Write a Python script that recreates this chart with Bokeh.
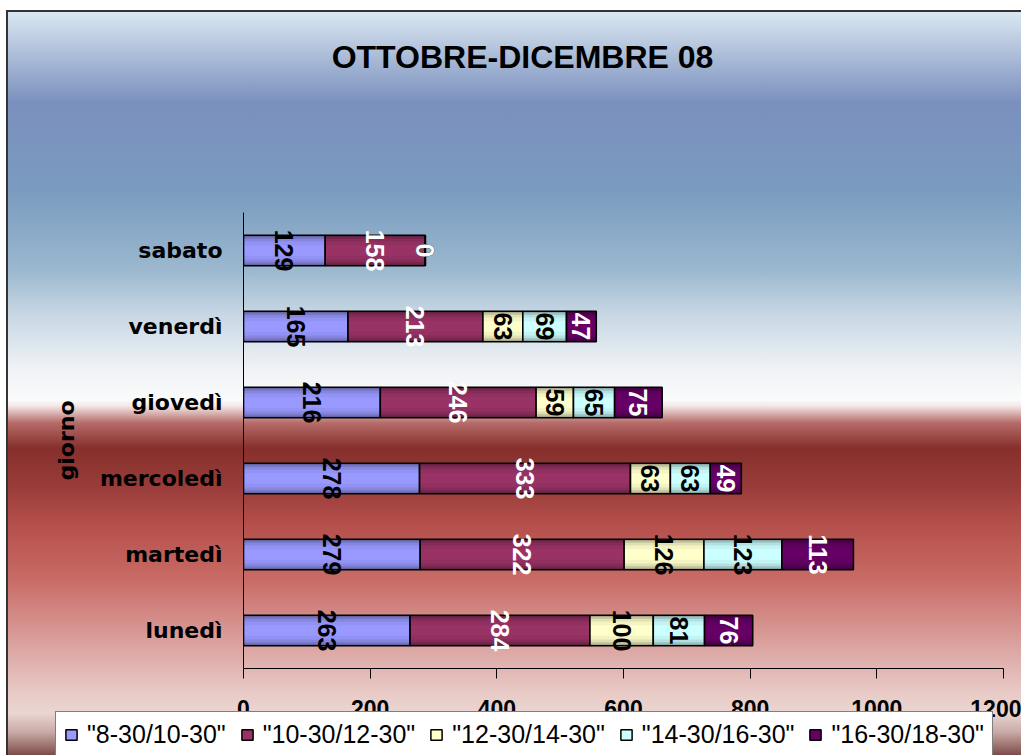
import numpy as np
from bokeh.plotting import figure
from bokeh.layouts import column
from bokeh.models import ColumnDataSource, Legend, LegendItem, FactorRange, Range1d, Label
from bokeh.core.properties import value
from bokeh.embed import file_html
from bokeh.resources import INLINE

# ---------------- data ----------------
days = ["lunedì", "martedì", "mercoledì", "giovedì", "venerdì", "sabato"]
s_8_10 = [263, 279, 278, 216, 165, 129]
s_10_12 = [284, 322, 333, 246, 213, 158]
s_12_14 = [100, 126, 63, 59, 63, 0]
s_14_16 = [81, 123, 63, 65, 69, 0]
s_16_18 = [76, 113, 49, 75, 47, 0]
series_names = ['"8-30/10-30"', '"10-30/12-30"', '"12-30/14-30"', '"14-30/16-30"', '"16-30/18-30"']
title_text = "OTTOBRE-DICEMBRE 08"
y_title = "giorno"
x_ticks = [0, 200, 400, 600, 800, 1000, 1200]

# ---------------- style ----------------
colors = ["#9999FF", "#993366", "#FFFFCC", "#CCFFFF", "#660066"]
label_colors = ["black", "white", "black", "black", "white"]
FONT = "Liberation Sans"
WIDE = "DejaVu Sans"


def shade(hexcol, f):
    h = hexcol.lstrip("#")
    r, g, b = (int(h[i:i + 2], 16) for i in (0, 2, 4))
    return "#%02x%02x%02x" % (int(r * f), int(g * f), int(b * f))


def bare(fig):
    fig.frame_align = False
    fig.background_fill_color = None
    fig.border_fill_color = None
    fig.outline_line_color = None
    fig.grid.visible = False


# ---------------- title strip ----------------
pt = figure(width=1021, height=100, x_range=Range1d(0, 1), y_range=Range1d(0, 1),
            output_backend="svg", toolbar_location=None,
            x_axis_location=None, y_axis_location=None,
            min_border_left=0, min_border_right=0, min_border_top=0, min_border_bottom=0)
bare(pt)
pt.add_layout(Label(x=522, y=44, x_units="screen", y_units="screen", text=title_text,
                    text_align="center", text_baseline="middle",
                    text_font=FONT, text_font_style="bold", text_font_size="32px",
                    text_color="black"))

# ---------------- main chart ----------------
p = figure(width=1021, height=630,
           y_range=FactorRange(factors=days, range_padding=0),
           x_range=Range1d(0, 1200),
           output_backend="svg", toolbar_location=None,
           min_border_left=243, min_border_right=18,
           min_border_top=112, min_border_bottom=62)
bare(p)

series = [s_8_10, s_10_12, s_12_14, s_14_16, s_16_18]
arr = np.array(series, dtype=float)
lefts = np.vstack([np.zeros(len(days)), np.cumsum(arr, axis=0)[:-1]])
rights = lefts + arr

layers = [(0.40, 0.62), (0.36, 0.76), (0.31, 0.88), (0.24, 0.96), (0.14, 1.0)]
for i in range(len(series)):
    src = ColumnDataSource(dict(y=days, left=lefts[i], right=rights[i]))
    for hgt, f in layers:
        p.hbar(y="y", left="left", right="right", height=hgt, source=src,
               fill_color=shade(colors[i], f), line_color=None)
    p.hbar(y="y", left="left", right="right", height=0.4, source=src,
           fill_color=None, line_color="black", line_width=1.6)

for i in range(len(series)):
    src = ColumnDataSource(dict(x=(lefts[i] + rights[i]) / 2, y=days,
                                t=[str(v) for v in series[i]]))
    p.text(x="x", y="y", text="t", source=src, angle=-np.pi / 2,
           text_align="center", text_baseline="middle",
           text_font=value(FONT), text_font_style="bold", text_font_size="25px",
           text_color=label_colors[i])

p.xaxis.ticker = x_ticks
p.xaxis.major_tick_out = 10
p.xaxis.major_tick_in = 0
p.xaxis.minor_tick_line_color = None
p.xaxis.axis_line_color = "black"
p.xaxis.major_tick_line_color = "black"
p.xaxis.major_label_text_font = FONT
p.xaxis.major_label_text_font_style = "bold"
p.xaxis.major_label_text_font_size = "23px"
p.xaxis.major_label_text_color = "black"
p.xaxis.major_label_standoff = 21

p.yaxis.major_tick_line_color = None
p.yaxis.minor_tick_line_color = None
p.yaxis.axis_line_color = "black"
p.yaxis.major_label_text_font = WIDE
p.yaxis.major_label_text_font_style = "bold"
p.yaxis.major_label_text_font_size = "22px"
p.yaxis.major_label_text_color = "black"
p.yaxis.major_label_standoff = 15
p.yaxis.axis_label = y_title
p.yaxis.axis_label_text_font = WIDE
p.yaxis.axis_label_text_font_style = "bold"
p.yaxis.axis_label_text_font_size = "22px"
p.yaxis.axis_label_text_color = "black"
p.yaxis.axis_label_standoff = 18

# ---------------- legend strip (overlaps bottom of tick labels, as in the reference) ----------------
pl = figure(width=1021, height=45, x_range=Range1d(0, 1), y_range=Range1d(0, 1),
            output_backend="svg", toolbar_location=None,
            x_axis_location=None, y_axis_location=None,
            min_border_left=54, min_border_right=0, min_border_top=0, min_border_bottom=0,
            margin=(-20, 0, 0, 0))
bare(pl)
items = []
for i in range(len(series)):
    r = pl.quad(left=[-10], right=[-9], bottom=[0], top=[1],
                fill_color=colors[i], line_color="black", line_width=1.5)
    items.append(LegendItem(label=series_names[i], renderers=[r]))
legend = Legend(items=items, orientation="horizontal", location="top_left",
                label_text_font=FONT, label_text_font_size="25px", label_text_color="black",
                glyph_width=14, glyph_height=13, label_standoff=9, spacing=14, padding=8,
                border_line_color="black", border_line_width=1,
                background_fill_color="white", background_fill_alpha=1, margin=1)
pl.add_layout(legend)

stops = [(0, "#dce9f2"), (93, "#7a8fbd"), (183, "#7b9cc0"), (260, "#9bb8cf"),
         (303, "#c6d6e3"), (356, "#eef1f5"), (390, "#fbfbfb"), (396, "#f3e6e6"),
         (413, "#b56b69"), (438, "#862f2c"), (478, "#9a3d3a"), (515, "#b5504c"),
         (568, "#c86a65"), (635, "#dba3a0"), (683, "#e8cac6"), (703, "#ebd6d2"),
         (722, "#c9aaa6"), (745, "#7e4c49")]
grad = "linear-gradient(to bottom, " + ", ".join("%s %dpx" % (c, y) for y, c in stops) + ")"
bg = ("linear-gradient(#333,#333) 7px 10px / 1014px 2px no-repeat, "
      "linear-gradient(#333,#333) 6px 10px / 2px 745px no-repeat, "
      + grad + " 7px 10px / 1014px 745px no-repeat, white")

layout = column(pt, p, pl, spacing=0)
layout.styles = {"background": bg}

open("out.html", "w").write(file_html(layout, INLINE))
